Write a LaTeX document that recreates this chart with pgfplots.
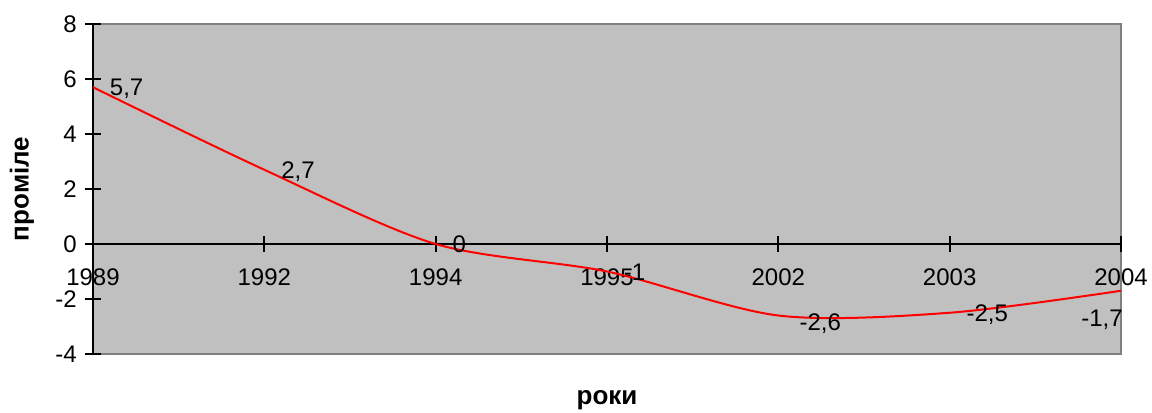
\documentclass[border=0pt]{standalone}
\usepackage{fontspec}
\setmainfont{Liberation Sans}
\usepackage{pgfplots}
\pgfplotsset{compat=1.18}
\definecolor{plotbg}{HTML}{C0C0C0}
\definecolor{frame}{HTML}{808080}
\pgfplotstableread{
x y lab
0 5.7 {5,7}
1 2.7 {2,7}
2 0 {0}
3 -1 {-1}
4 -2.6 {-2,6}
5 -2.5 {-2,5}
6 -1.7 {-1,7}
}\data
\begin{document}
\begin{tikzpicture}[font=\fontsize{18pt}{21pt}\selectfont]
\useasboundingbox (0,0) rectangle (864pt,309pt);
% background box
\begin{axis}[at={(69.75pt,43.5pt)}, anchor=south west,
  scale only axis, width=771pt, height=247.5pt,
  xmin=0, xmax=6, ymin=-4, ymax=8,
  xtick=\empty, ytick=\empty,
  axis background/.style={fill=plotbg},
  axis line style={draw=frame, line width=1.5pt}]
\end{axis}
% main axis
\begin{axis}[at={(69.75pt,43.5pt)}, anchor=south west,
  scale only axis, width=771pt, height=247.5pt,
  xmin=0, xmax=6, ymin=-4, ymax=8,
  axis x line=middle, axis y line=left,
  every inner x axis line/.append style={-},
  every outer y axis line/.append style={-},
  x axis line style={-}, y axis line style={-},
  axis line style={black, line width=1.5pt},
  hide obscured x ticks=false, hide obscured y ticks=false,
  tick align=center, major tick length=12pt,
  tick style={black, line width=1.5pt},
  xtick={0,1,2,3,4,5,6},
  xticklabels={1989,1992,1994,1995,2002,2003,2004},
  ytick={-4,-2,0,2,4,6,8},
  yticklabels={-4,-2,0,2,4,6,8},
  xticklabel style={anchor=north, inner sep=0pt, yshift=-12pt},
  yticklabel style={anchor=east, inner sep=0pt, xshift=-6pt},
  xlabel={\textbf{роки}}, ylabel={\textbf{проміле}},
  every axis x label/.style={at={(axis description cs:0.5,-0.1394)}, anchor=center, font=\fontsize{19.5pt}{22pt}\selectfont},
  every axis y label/.style={at={(axis description cs:-0.0691,0.5)}, rotate=90, anchor=center, font=\fontsize{19.5pt}{22pt}\selectfont},
  clip=false]
\addplot[red, line width=1.5pt, smooth, tension=0.5] table[x=x,y=y] {\data};
% data labels
\addplot[draw=none, mark=none, point meta=explicit symbolic,
  nodes near coords, nodes near coords style={anchor=base west, inner sep=0pt, xshift=12.5pt, yshift=-6.5pt, black}]
  table[x=x, y=y, meta=lab] {
x y lab
0 5.7 {5,7}
1 2.7 {2,7}
2 0 {0}
3 -1 {-1}
5 -2.5 {-2,5}
};
\addplot[draw=none, mark=none, point meta=explicit symbolic,
  nodes near coords, nodes near coords style={anchor=base west, inner sep=0pt, xshift=15.75pt, yshift=-11.5pt, black}]
  table[x=x, y=y, meta=lab] {
x y lab
4 -2.6 {-2,6}
};
\addplot[draw=none, mark=none, point meta=explicit symbolic,
  nodes near coords, nodes near coords style={anchor=base east, inner sep=0pt, xshift=1.5pt, yshift=-27pt, black}]
  table[x=x, y=y, meta=lab] {
x y lab
6 -1.7 {-1,7}
};
\end{axis}
\end{tikzpicture}
\end{document}
